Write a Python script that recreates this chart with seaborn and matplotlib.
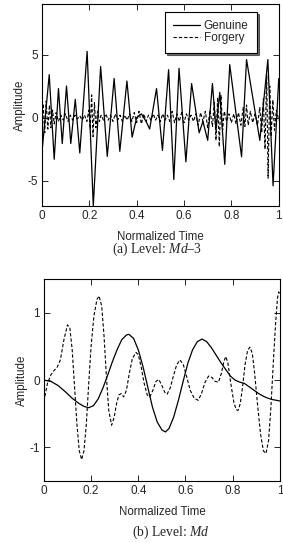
import numpy as np
import pandas as pd
import matplotlib
matplotlib.use("Agg")
import matplotlib.pyplot as plt
import seaborn as sns

# Level Md-3 (top panel)
t_gen_a = [0.0, 0.031, 0.052, 0.070, 0.086, 0.104, 0.122, 0.141, 0.160, 0.191,
           0.217, 0.248, 0.276, 0.305, 0.329, 0.359, 0.381, 0.400, 0.420, 0.440,
           0.455, 0.484, 0.509, 0.535, 0.557, 0.579, 0.608, 0.632, 0.664, 0.680,
           0.700, 0.720, 0.735, 0.751, 0.772, 0.793, 0.843, 0.864, 0.920, 0.954,
           0.976, 1.0]
v_gen_a = [-2.8, 3.4, -3.3, 2.3, -2.05, 2.5, -2.05, 1.45, -2.8, 5.25,
           -7.0, 4.05, -3.07, 3.1, -2.67, 2.9, -1.55, 0.0, 0.3, -0.3,
           -0.9, 2.3, -2.6, 3.8, -4.9, 3.9, -3.5, 2.7, -1.2, -0.3,
           -1.8, 2.7, -1.0, 2.0, -3.7, 4.2, -3.1, 4.6, -1.8, 4.6,
           -5.4, 3.1]

t_forg_a = [0.0, 0.005, 0.012, 0.018, 0.025, 0.032, 0.038, 0.045, 0.052, 0.06,
            0.07, 0.08, 0.09, 0.10, 0.11, 0.12, 0.13, 0.14, 0.15, 0.16,
            0.17, 0.18, 0.19, 0.198, 0.204, 0.21, 0.216, 0.222, 0.228, 0.235,
            0.243, 0.25, 0.26, 0.27, 0.28, 0.29, 0.30, 0.31, 0.32, 0.33,
            0.34, 0.35, 0.36, 0.37, 0.38, 0.39, 0.40, 0.41, 0.42, 0.43,
            0.44, 0.45, 0.46, 0.47, 0.48, 0.49, 0.50, 0.51, 0.52, 0.53,
            0.54, 0.55, 0.56, 0.57, 0.58, 0.59, 0.60, 0.61, 0.62, 0.63,
            0.64, 0.65, 0.66, 0.67, 0.68, 0.69, 0.70, 0.71, 0.72, 0.728,
            0.735, 0.742, 0.749, 0.756, 0.763, 0.77, 0.78, 0.79, 0.80, 0.81,
            0.82, 0.83, 0.84, 0.85, 0.857, 0.864, 0.871, 0.88, 0.89, 0.90,
            0.91, 0.92, 0.928, 0.935, 0.942, 0.949, 0.955, 0.962, 0.968, 0.975,
            0.982, 0.99, 1.0]
v_forg_a = [-0.5, 1.1, -1.2, 1.3, -0.9, 1.0, -0.8, 0.6, -0.5, 0.4,
            -0.3, 0.2, -0.2, 0.3, -0.3, 0.2, -0.2, 0.2, -0.1, 0.15,
            -0.2, 0.2, -0.3, 0.6, -0.9, 1.8, -1.5, 1.2, -0.8, 0.5,
            -0.3, 0.2, -0.2, 0.3, -0.2, 0.2, -0.3, 0.3, -0.2, 0.2,
            -0.3, 0.2, -0.2, 0.3, -0.3, 0.4, -0.4, 0.5, -0.5, 0.3,
            -0.3, 0.2, -0.2, 0.3, -0.2, 0.2, -0.3, 0.3, -0.2, 0.2,
            -0.3, 0.5, -0.4, 0.3, -0.3, 0.4, -0.4, 0.3, -0.2, 0.2,
            -0.3, 0.3, -0.6, 0.4, -0.3, 0.5, -0.8, 0.6, -0.7, 1.2,
            -1.8, 1.6, -2.3, 1.8, -1.0, 0.5, -0.3, 0.3, -0.4, 0.3,
            -0.5, 0.4, -0.6, 0.8, -0.7, 1.0, -0.6, 0.5, -0.4, 0.3,
            -0.6, 0.8, -1.2, 1.5, -2.5, 3.4, -4.8, 2.5, -1.5, 1.4,
            -1.0, 0.6, -0.2]

# Level Md (bottom panel)
t_gen_b = [0.0, 0.03, 0.06, 0.09, 0.12, 0.15, 0.17, 0.19, 0.21, 0.23,
           0.25, 0.27, 0.29, 0.31, 0.33, 0.35, 0.36, 0.38, 0.40, 0.42,
           0.44, 0.46, 0.48, 0.50, 0.515, 0.53, 0.55, 0.57, 0.59, 0.61,
           0.63, 0.65, 0.67, 0.69, 0.71, 0.73, 0.75, 0.77, 0.79, 0.81,
           0.83, 0.85, 0.87, 0.89, 0.91, 0.93, 0.95, 0.97, 1.0]
v_gen_b = [0.0, -0.02, -0.08, -0.17, -0.27, -0.35, -0.39, -0.41, -0.38, -0.28,
           -0.12, 0.07, 0.27, 0.45, 0.60, 0.67, 0.68, 0.62, 0.45, 0.20,
           -0.10, -0.40, -0.62, -0.74, -0.77, -0.72, -0.55, -0.30, -0.02, 0.25,
           0.45, 0.57, 0.61, 0.57, 0.48, 0.37, 0.26, 0.16, 0.06, 0.0,
           -0.03, -0.05, -0.10, -0.15, -0.20, -0.24, -0.27, -0.29, -0.31]

t_forg_b = [0.000, 0.015, 0.030, 0.045, 0.055, 0.070, 0.085, 0.100, 0.110, 0.120,
            0.130, 0.140, 0.150, 0.160, 0.170, 0.180, 0.190, 0.200, 0.212, 0.225,
            0.234, 0.245, 0.255, 0.265, 0.275, 0.287, 0.298, 0.308, 0.318, 0.328,
            0.338, 0.350, 0.362, 0.375, 0.390, 0.400, 0.412, 0.425, 0.438, 0.449,
            0.462, 0.475, 0.487, 0.500, 0.512, 0.522, 0.535, 0.548, 0.562, 0.576,
            0.590, 0.605, 0.620, 0.637, 0.654, 0.668, 0.682, 0.698, 0.712, 0.726,
            0.740, 0.752, 0.763, 0.771, 0.780, 0.792, 0.805, 0.815, 0.823, 0.832,
            0.842, 0.852, 0.863, 0.873, 0.883, 0.893, 0.905, 0.918, 0.930, 0.941,
            0.952, 0.962, 0.972, 0.982, 0.990, 0.995, 1.000]
v_forg_b = [-0.32, -0.05, 0.08, 0.15, 0.18, 0.30, 0.60, 0.82, 0.78, 0.45,
            -0.10, -0.65, -1.05, -1.18, -1.05, -0.65, -0.05, 0.50, 0.95, 1.20,
            1.25, 1.10, 0.65, 0.05, -0.45, -0.67, -0.55, -0.35, -0.22, -0.20,
            -0.25, -0.15, 0.10, 0.32, 0.41, 0.38, 0.20, -0.05, -0.22, -0.25,
            -0.15, -0.02, 0.01, -0.08, -0.18, -0.21, -0.12, 0.05, 0.22, 0.30,
            0.24, 0.05, -0.15, -0.27, -0.30, -0.20, -0.04, 0.06, 0.04, -0.02,
            -0.03, 0.10, 0.28, 0.35, 0.25, -0.05, -0.33, -0.44, -0.45, -0.35,
            -0.10, 0.22, 0.44, 0.49, 0.40, 0.10, -0.35, -0.80, -1.05, -1.09,
            -0.90, -0.40, 0.25, 0.85, 1.22, 1.31, 1.28]

sns.set_style("ticks")
plt.rcParams['font.family'] = ['Liberation Sans', 'DejaVu Sans']
plt.rcParams['axes.unicode_minus'] = False
plt.rcParams['mathtext.fontset'] = 'custom'
plt.rcParams['mathtext.rm'] = 'Liberation Serif'
plt.rcParams['mathtext.it'] = 'Liberation Serif:italic'

fig = plt.figure(figsize=(2.83, 5.43), dpi=100)
ax1 = fig.add_axes([0.148, 0.6206, 0.837, 0.372])
ax2 = fig.add_axes([0.155, 0.114, 0.834, 0.372])


def draw_panel(ax, tg, vg, tf, vf):
    sns.lineplot(x=tg, y=vg, ax=ax, color='black', lw=0.9,
                 estimator=None, label='Genuine')
    sns.lineplot(x=tf, y=vf, ax=ax, color='black', lw=0.8,
                 estimator=None, label='Forgery', linestyle=(0, (3, 1.8)))
    ax.set_xlim(0, 1)
    ax.set_xticks([0, 0.2, 0.4, 0.6, 0.8, 1])
    ax.set_xticklabels(['0', '0.2', '0.4', '0.6', '0.8', '1'])
    ax.tick_params(direction='in', length=4, width=0.7, labelsize=8.5,
                   top=True, right=True, pad=3)
    for s in ax.spines.values():
        s.set_linewidth(0.8)
        s.set_color('black')
    ax.set_xlabel('Normalized Time', fontsize=8.3, labelpad=6)
    ax.set_ylabel('Amplitude', fontsize=8.3, labelpad=1)


draw_panel(ax1, t_gen_a, v_gen_a, t_forg_a, v_forg_a)
ax1.set_ylim(-7, 9)
ax1.set_yticks([-5, 0, 5])
leg = ax1.legend(loc='upper right', bbox_to_anchor=(0.907, 0.96),
                 fontsize=8.5, frameon=True, fancybox=False,
                 shadow={'ox': 1.5, 'oy': -1.5, 'color': 'black', 'alpha': 0.55},
                 edgecolor='black', framealpha=1,
                 borderaxespad=0, handlelength=2.3, handletextpad=0.3,
                 borderpad=0.7, labelspacing=0.0)
leg.get_frame().set_linewidth(0.8)

draw_panel(ax2, t_gen_b, v_gen_b, t_forg_b, v_forg_b)
ax2.set_ylim(-1.5, 1.5)
ax2.set_yticks([-1, 0, 1])
ax2.get_legend().remove()

fig.text(0.553, 0.540, r'(a) Level: $\mathit{Md}$–3', ha='center', va='center',
         fontsize=9.8, family='Liberation Serif')
fig.text(0.604, 0.020, r'(b) Level: $\mathit{Md}$', ha='center', va='center',
         fontsize=9.8, family='Liberation Serif')

fig.savefig('out.png', dpi=100)
